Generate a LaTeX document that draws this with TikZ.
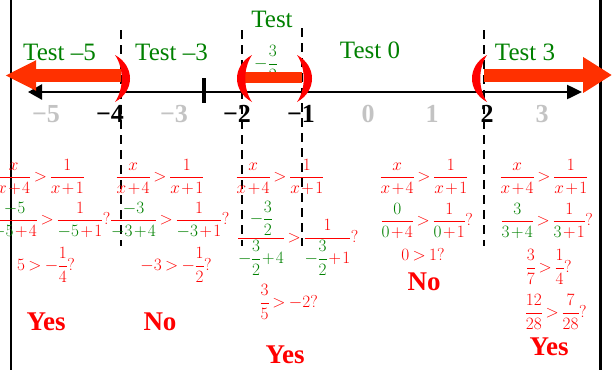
\documentclass[tikz,border=0pt]{standalone}
\usepackage{amsmath}
\usepackage{fontspec}
\setmainfont{Liberation Serif}
\usetikzlibrary{arrows.meta}
\definecolor{testgreen}{RGB}{0,128,0}
\definecolor{rayred}{RGB}{255,48,0}
\definecolor{eqred}{RGB}{255,0,0}
\definecolor{tickgray}{RGB}{195,195,195}
\newcommand\grn[1]{\textcolor{testgreen}{#1}}
% compact spacing for the worked checks
\newcommand\tightmath{\medmuskip=1.5mu\thickmuskip=3.5mu\nulldelimiterspace=0.5pt}
\tikzset{
  frameline/.style={line width=2.4pt},
  divider/.style={line width=2.6pt, dash pattern=on 9pt off 6pt},
  axis/.style={line width=2.5pt,
    {Triangle[length=14pt,width=15pt]}-{Triangle[length=15pt,width=14pt]}},
  testlbl/.style={text=testgreen, font=\fontsize{25}{28}\selectfont, anchor=base, inner sep=0pt},
  ticklbl/.style={font=\bfseries\fontsize{26}{28}\selectfont, inner sep=0pt},
  faint/.style={ticklbl, text=tickgray},
  eq/.style={text=eqred, font=\fontsize{17.5}{21}\selectfont\tightmath, inner sep=0pt},
  verdict/.style={text=eqred, font=\bfseries\fontsize{27}{30}\selectfont, inner sep=0pt},
  ray/.style={rayred, line width=13pt, -{Triangle[length=31pt,width=28pt]}},
  rayR/.style={rayred, line width=13pt, -{Triangle[length=29pt,width=34pt]}},
  bar/.style={rayred, line width=11.5pt},
  paren/.style={fill=eqred, draw=none},
}
\begin{document}
\begin{tikzpicture}[x=1pt,y=-1pt]
\useasboundingbox (0,0) rectangle (613,370);

% frame
\draw[frameline] (11,0) -- (11,370);
\draw[frameline] (600.5,0) -- (600.5,370);

% critical values
\draw[divider] (121,30) -- (121,246);
\draw[divider] (242,30) -- (242,246);
\draw[divider] (302,28) -- (302,246);
\draw[divider] (484,30) -- (484,246);

% number line
\coordinate (axL) at (28,92);
\coordinate (axR) at (582,92);
\draw[axis] (axL) -- (axR);
\draw[line width=4pt] (204,78) -- (204,103);

\node[faint]   (n5) at (46,114)  {−5};
\node[ticklbl] (n4) at (110,114) {−4};
\node[faint]   (n3) at (174,114) {−3};
\node[ticklbl] (n2) at (237,114) {−2};
\node[ticklbl] (n1) at (301,114) {−1};
\node[faint]   (z0) at (368,114) {0};
\node[faint]   (p1) at (432,114) {1};
\node[ticklbl] (p2) at (487,114) {2};
\node[faint]   (p3) at (542,114) {3};

% test points
\node[testlbl] (t1) at (59.5,60) {Test --5};
\node[testlbl] (t2) at (171.5,60) {Test --3};
\node[testlbl] (t3) at (272,27) {Test};
\node[text=testgreen, font=\fontsize{17}{20}\selectfont, inner sep=0pt] (t3f) at (266,63) {$-\dfrac{3}{2}$};
\node[testlbl] (t4) at (370,58) {Test 0};
\node[testlbl] (t5) at (525,60) {Test 3};

% column x < -4
\node[eq] (a1) at (40.5,177) {$\dfrac{x}{x+4}>\dfrac{1}{x+1}$};
\node[eq] (a2) at (51,220) {$\dfrac{\grn{-5}}{\grn{-5}+4}>\dfrac{1}{\grn{-5}+1}?$};
\node[eq] (a3) at (46,265) {$5>-\dfrac{1}{4}?$};
\node[verdict] (a4) at (46,322) {Yes};

% column -4 < x < -2
\node[eq] (b1) at (160,177) {$\dfrac{x}{x+4}>\dfrac{1}{x+1}$};
\node[eq] (b2) at (170,220) {$\dfrac{\grn{-3}}{\grn{-3+4}}>\dfrac{1}{\grn{-3}+1}?$};
\node[eq] (b3) at (176,265) {$-3>-\dfrac{1}{2}?$};
\node[verdict] (b4) at (160,322) {No};

% column -2 < x < -1
\node[eq] (c1) at (280,177) {$\dfrac{x}{x+4}>\dfrac{1}{x+1}$};
\node[eq] (c2) at (298,238) {$\dfrac{\grn{-\dfrac{3}{2}}}{\grn{-\dfrac{3}{2}+4}}>\dfrac{1}{\grn{-\dfrac{3}{2}}+1}?$};
\node[eq] (c3) at (289,302) {$\dfrac{3}{5}>-2?$};
\node[verdict] (c4) at (285,355) {Yes};

% column -1 < x < 2
\node[eq] (d1) at (424,177) {$\dfrac{x}{x+4}>\dfrac{1}{x+1}$};
\node[eq] (d2) at (427,221) {$\dfrac{\grn{0}}{\grn{0}+4}>\dfrac{1}{\grn{0}+1}?$};
\node[eq] (d3) at (423,255) {$0>1?$};
\node[verdict] (d4) at (424,282) {No};

% column x > 2
\node[eq] (e1) at (544,177) {$\dfrac{x}{x+4}>\dfrac{1}{x+1}$};
\node[eq] (e2) at (547,221) {$\dfrac{\grn{3}}{\grn{3+4}}>\dfrac{1}{\grn{3}+1}?$};
\node[eq] (e3) at (549,267) {$\dfrac{3}{7}>\dfrac{1}{4}?$};
\node[eq] (e4) at (556,312) {$\dfrac{12}{28}>\dfrac{7}{28}?$};
\node[verdict] (e5) at (549,347) {Yes};

% solution rays
\coordinate (r1s) at (121,75.5);
\coordinate (r1e) at (5,75.5);
\draw[ray] (r1s) -- (r1e);
\coordinate (r2s) at (245,77.5);
\coordinate (r2e) at (302,77.5);
\draw[bar] (r2s) -- (r2e);
\coordinate (r3s) at (484,75);
\coordinate (r3e) at (612,75);
\draw[rayR] (r3s) -- (r3e);

% open endpoints
\foreach \px/\dir in {115/1, 252/-1, 297/1, 487/-1}{
  \begin{scope}[shift={(\px,0)}, xscale=\dir]
    \fill[paren] (0,55) .. controls (20,66) and (20,91) .. (0,102)
                 .. controls (9,89) and (9,68) .. cycle;
  \end{scope}
}
\end{tikzpicture}
\end{document}
